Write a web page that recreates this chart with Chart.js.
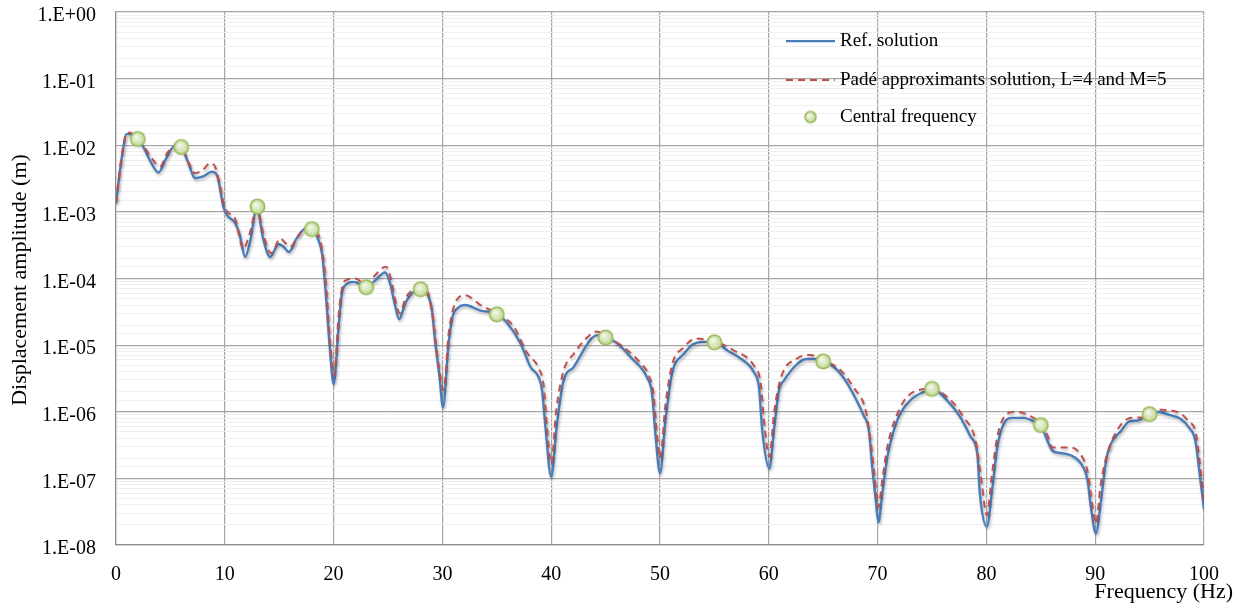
<!DOCTYPE html>
<html><head><meta charset="utf-8">
<script src="https://cdn.jsdelivr.net/npm/chart.js@4.4.1/dist/chart.umd.min.js"></script>
<style>html,body{margin:0;padding:0;background:#fff;}#wrap{width:1239px;height:603px;position:relative;}</style>
</head><body><div id="wrap"><canvas id="c"></canvas></div>
<script>
const refFreq = [0,0.5,1.0,1.5,2.0,2.5,3.2,3.9,4.6,5.4,6.0,6.65,7.27,8.0,8.8,9.3,9.87,10.2,10.95,11.4,11.87,12.3,12.94,13.55,14.17,14.94,15.4,15.9,16.6,17.4,18.0,18.6,18.93,19.23,19.69,20.0,20.46,20.76,21.07,21.83,23.0,23.67,24.75,25.2,25.67,26.03,26.6,27.35,28.0,28.58,29.03,29.35,29.74,30.05,30.57,30.97,31.33,32.1,33.5,35.0,35.9,37.17,38.1,38.85,39.16,39.47,40.0,40.5,41.1,42.07,43.6,44.2,45.0,46.05,47.3,48.8,49.27,49.6,50.0,50.5,51.1,52.2,53.27,54.3,55.0,56.2,57.4,58.6,59.1,59.4,60.05,60.47,60.93,61.4,62.6,63.5,64.45,65.0,66.0,66.9,67.8,68.7,69.2,69.5,69.83,70.07,70.43,70.9,71.8,73.04,74.3,75.0,76.7,77.6,78.56,79.17,79.4,80.04,80.56,81.0,81.6,82.4,83.47,84.4,85.0,85.6,86.07,86.8,87.8,88.7,89.3,89.6,90.07,90.5,91.0,91.4,92.4,93.1,93.9,95.0,95.7,96.9,97.8,98.7,99.2,99.6,100];
const refAmp = [1.35e-3,6.0e-3,1.48e-2,1.45e-2,1.25e-2,9.5e-3,5.6e-3,3.9e-3,6.3e-3,9.8e-3,9.3e-3,5.4e-3,3.2e-3,3.4e-3,4.0e-3,3.5e-3,1.2e-3,8.9e-4,6.8e-4,4.3e-4,2.1e-4,3.4e-4,1.12e-3,3.8e-4,2.1e-4,3.3e-4,3.0e-4,2.5e-4,4.0e-4,5.6e-4,5.5e-4,3.8e-4,2.4e-4,7.6e-5,7.6e-6,2.6e-6,1.86e-5,6.0e-5,7.9e-5,8.9e-5,7.6e-5,8.9e-5,1.23e-4,8.4e-5,3.8e-5,2.45e-5,4.3e-5,6.3e-5,6.8e-5,6.0e-5,3.4e-5,1.07e-5,3.3e-6,1.17e-6,1.07e-5,2.8e-5,3.5e-5,4.0e-5,3.3e-5,2.95e-5,2.2e-5,1.07e-5,4.7e-6,3.3e-6,2.1e-6,5.9e-7,1.05e-7,5.9e-7,2.8e-6,4.7e-6,1.2e-5,1.4e-5,1.32e-5,1.07e-5,6.6e-6,3.3e-6,1.86e-6,4.2e-7,1.2e-7,7.4e-7,3.7e-6,7.4e-6,1.07e-5,1.12e-5,1.12e-5,8.3e-6,6.3e-6,4.0e-6,2.3e-6,5.2e-7,1.4e-7,5.2e-7,2.1e-6,2.95e-6,5.2e-6,6.2e-6,6.2e-6,5.8e-6,4.7e-6,3.2e-6,1.8e-6,8.9e-7,5.2e-7,1.5e-7,4.7e-8,2.2e-8,5.9e-8,2.1e-7,7.4e-7,1.5e-6,2.0e-6,2.2e-6,1.3e-6,8.3e-7,4.2e-7,2.3e-7,5.9e-8,1.9e-8,7.4e-8,2.95e-7,6.6e-7,8.1e-7,8.1e-7,7.1e-7,6.3e-7,3.7e-7,2.6e-7,2.4e-7,2.2e-7,1.66e-7,9.3e-8,3.7e-8,1.5e-8,4.2e-8,1.86e-7,3.2e-7,5.2e-7,7.1e-7,7.4e-7,9.1e-7,1.0e-6,8.9e-7,7.9e-7,5.6e-7,3.7e-7,1.17e-7,3.5e-8];
const padeFreq = [0,0.5,1.0,1.5,2.0,2.5,3.2,4.05,4.7,5.5,6.0,6.65,7.27,8.0,8.65,9.1,9.57,10.03,10.95,11.7,12.3,12.94,13.6,14.27,15.1,15.5,16.0,16.8,17.5,18.0,18.77,19.07,19.3,19.7,20.05,20.46,20.8,21.07,22.0,23.0,23.7,24.8,25.3,25.7,26.1,26.6,27.35,28.0,28.58,29.1,29.45,29.8,30.1,30.6,31.33,32.1,33.5,35.0,36.55,37.8,38.85,39.3,39.6,40.0,40.45,41.15,42.07,43.3,44.2,45.0,46.4,48.2,48.98,49.4,49.7,50.0,50.5,51.1,52.2,53.27,54.3,55.0,56.8,58.6,59.25,59.6,60.05,60.5,61.1,62.6,63.8,65.0,66.6,67.8,68.9,69.4,69.75,70.07,70.45,70.9,72.1,73.35,75.0,76.7,77.9,79.0,79.5,80.04,80.5,81.0,81.9,82.8,84.1,85.0,85.6,86.07,87.8,88.8,89.3,89.6,90.07,90.5,91.1,92.2,93.3,94.5,96.0,97.8,98.5,99.26,99.6,100];
const padeAmp = [1.4e-3,6.5e-3,1.55e-2,1.5e-2,1.26e-2,1.0e-2,6.7e-3,4.8e-3,7.6e-3,9.8e-3,9.4e-3,5.6e-3,3.8e-3,4.3e-3,5.4e-3,4.8e-3,2.4e-3,1.12e-3,7.9e-4,2.8e-4,4.8e-4,1.15e-3,4.3e-4,2.4e-4,4.0e-4,3.5e-4,3.0e-4,4.5e-4,5.8e-4,5.5e-4,3.8e-4,1.9e-4,8.5e-5,1.0e-5,3.5e-6,2.8e-5,7.6e-5,9.3e-5,1.0e-4,8.0e-5,1.07e-4,1.5e-4,9.5e-5,4.5e-5,3.0e-5,5.0e-5,6.8e-5,7.1e-5,6.6e-5,2.8e-5,9.0e-6,3.5e-6,2.1e-6,1.6e-5,4.8e-5,5.6e-5,4.0e-5,3.0e-5,1.9e-5,7.6e-6,4.5e-6,2.5e-6,6.3e-7,1.66e-7,1.0e-6,4.2e-6,7.4e-6,1.3e-5,1.6e-5,1.35e-5,1.0e-5,5.4e-6,3.5e-6,1.86e-6,5.0e-7,2.0e-7,1.26e-6,5.0e-6,9.3e-6,1.26e-5,1.2e-5,1.15e-5,8.3e-6,5.0e-6,2.7e-6,6.3e-7,2.1e-7,1.0e-6,3.2e-6,6.3e-6,7.1e-6,6.0e-6,4.2e-6,2.3e-6,1.05e-6,3.2e-7,1.0e-7,3.7e-8,1.0e-7,3.0e-7,1.17e-6,2.0e-6,2.2e-6,1.5e-6,8.3e-7,3.7e-7,1.05e-7,2.8e-8,1.1e-7,4.2e-7,9.3e-7,1.0e-6,8.5e-7,6.6e-7,4.5e-7,2.9e-7,2.9e-7,2.1e-7,1.26e-7,5.9e-8,2.1e-8,8.0e-8,2.3e-7,5.9e-7,8.1e-7,8.3e-7,1.07e-6,9.5e-7,7.4e-7,4.7e-7,1.8e-7,4.7e-8];
const centralFreq = [2,6,13,18,23,28,35,45,55,65,75,85,95];
const centralAmp = [1.24e-2,9.4e-3,1.2e-3,5.5e-4,7.4e-5,6.9e-5,2.9e-5,1.3e-5,1.1e-5,5.7e-6,2.2e-6,6.3e-7,9.2e-7];
const yTickLabels = ['1.E-08','1.E-07','1.E-06','1.E-05','1.E-04','1.E-03','1.E-02','1.E-01','1.E+00'];
const seriesNames = ['Ref. solution','Padé approximants solution, L=4 and M=5','Central frequency'];
const xTitle = 'Frequency (Hz)';
const yTitle = 'Displacement amplitude (m)';

const FONT = '"Liberation Serif", "Times New Roman", serif';
const BLUE = '#4a7ebb', RED = '#c0504d', GBORDER = '#9bbb59', GFILL = '#d3e2b3';

function pts(xs, ys){ return xs.map((x,i)=>({x:x, y:ys[i]})); }

function makeMarker(r){
  const s = Math.ceil(2*r + 4), cv = document.createElement('canvas');
  cv.width = s; cv.height = s;
  const g = cv.getContext('2d'), c0 = s/2;
  const grad = g.createRadialGradient(c0 - r*0.25, c0 - r*0.3, r*0.1, c0, c0, r);
  grad.addColorStop(0, '#f2f7e8'); grad.addColorStop(0.6, '#d6e5b8'); grad.addColorStop(1, '#bcd48f');
  g.beginPath(); g.arc(c0, c0, r, 0, Math.PI*2);
  g.fillStyle = grad; g.fill();
  g.lineWidth = 1.6; g.strokeStyle = GBORDER; g.stroke();
  return cv;
}
const markerImg = makeMarker(7.2);
const legendMarkerImg = makeMarker(5.5);

const deco = {
  id: 'deco',
  beforeDatasetDraw(chart, args){
    if (args.index < 2) {
      const c = chart.ctx; c.save();
      c.shadowColor = 'rgba(0,0,0,0.28)'; c.shadowBlur = 3; c.shadowOffsetX = 1; c.shadowOffsetY = 2;
    }
  },
  afterDatasetDraw(chart, args){ if (args.index < 2) chart.ctx.restore(); },
  afterDraw(chart){
    const c = chart.ctx;
    c.save();
    c.fillStyle = '#000';
    c.textBaseline = 'middle';
    c.font = '19px ' + FONT;
    const lx0 = 786, lx1 = 835, tx = 840, rows = [41, 80, 117];
    c.lineWidth = 2.25; c.strokeStyle = BLUE; c.setLineDash([]);
    c.beginPath(); c.moveTo(lx0, rows[0]); c.lineTo(lx1, rows[0]); c.stroke();
    c.strokeStyle = RED; c.lineWidth = 2; c.setLineDash([7,5]);
    c.beginPath(); c.moveTo(lx0, rows[1]); c.lineTo(lx1, rows[1]); c.stroke();
    c.setLineDash([]);
    c.drawImage(legendMarkerImg, (lx0+lx1)/2 - legendMarkerImg.width/2, rows[2] - legendMarkerImg.height/2);
    c.fillStyle = '#000'; c.textAlign = 'left';
    seriesNames.forEach((n,i)=> c.fillText(n, tx, rows[i]));
    c.font = '22px ' + FONT;
    c.textAlign = 'right';
    c.fillText(xTitle, 1233, 592);
    c.translate(20, 280); c.rotate(-Math.PI/2);
    c.textAlign = 'center';
    c.fillText(yTitle, 0, 0);
    c.restore();
  }
};

new Chart(document.getElementById('c'), {
  type: 'line',
  data: {
    datasets: [
      { label: seriesNames[0], data: pts(refFreq, refAmp), borderColor: BLUE, borderWidth: 2.4,
        pointRadius: 0, cubicInterpolationMode: 'monotone', fill: false, order: 3 },
      { label: seriesNames[1], data: pts(padeFreq, padeAmp), borderColor: RED, borderWidth: 2,
        borderDash: [7,5], pointRadius: 0, cubicInterpolationMode: 'monotone', fill: false, order: 2 },
      { label: seriesNames[2], data: pts(centralFreq, centralAmp), showLine: false,
        pointStyle: markerImg, pointRadius: 7.5, pointBackgroundColor: GFILL, pointBorderColor: GBORDER, order: 1 }
    ]
  },
  options: {
    responsive: true, maintainAspectRatio: false, animation: false, devicePixelRatio: 1,
    layout: { padding: { top: 12, right: 35, bottom: 0, left: 0 } },
    plugins: { legend: { display: false }, tooltip: { enabled: false } },
    scales: {
      x: {
        type: 'linear', min: 0, max: 100,
        ticks: { stepSize: 10, color: '#000', font: { family: FONT, size: 20 }, padding: 18, maxRotation: 0 },
        grid: { color: '#a6a6a6', lineWidth: 1.2, drawTicks: false },
        border: { color: '#8c8c8c', width: 1.2 },
        afterFit(s){ s.height = 58; s.paddingTop = 0; s.paddingBottom = 0; }
      },
      y: {
        type: 'logarithmic', min: 1e-8, max: 1,
        ticks: {
          autoSkip: false, color: '#000', font: { family: FONT, size: 20 }, padding: 20, labelOffset: 4,
          callback(v){
            const e = Math.round(Math.log10(v));
            if (Math.abs(Math.log10(v) - e) > 1e-6) return '';
            return yTickLabels[e + 8];
          }
        },
        grid: {
          drawTicks: false,
          color(ctx){ const l = Math.log10(ctx.tick.value); return Math.abs(l-Math.round(l))<1e-6 ? '#a6a6a6' : '#efefef'; },
          lineWidth(ctx){ const l = Math.log10(ctx.tick.value); return Math.abs(l-Math.round(l))<1e-6 ? 1.2 : 1; }
        },
        border: { color: '#8c8c8c', width: 1.2 },
        afterFit(s){ s.width = 116; s.paddingTop = 0; s.paddingBottom = 0; }
      }
    }
  },
  plugins: [deco]
});
</script>
</body></html>
